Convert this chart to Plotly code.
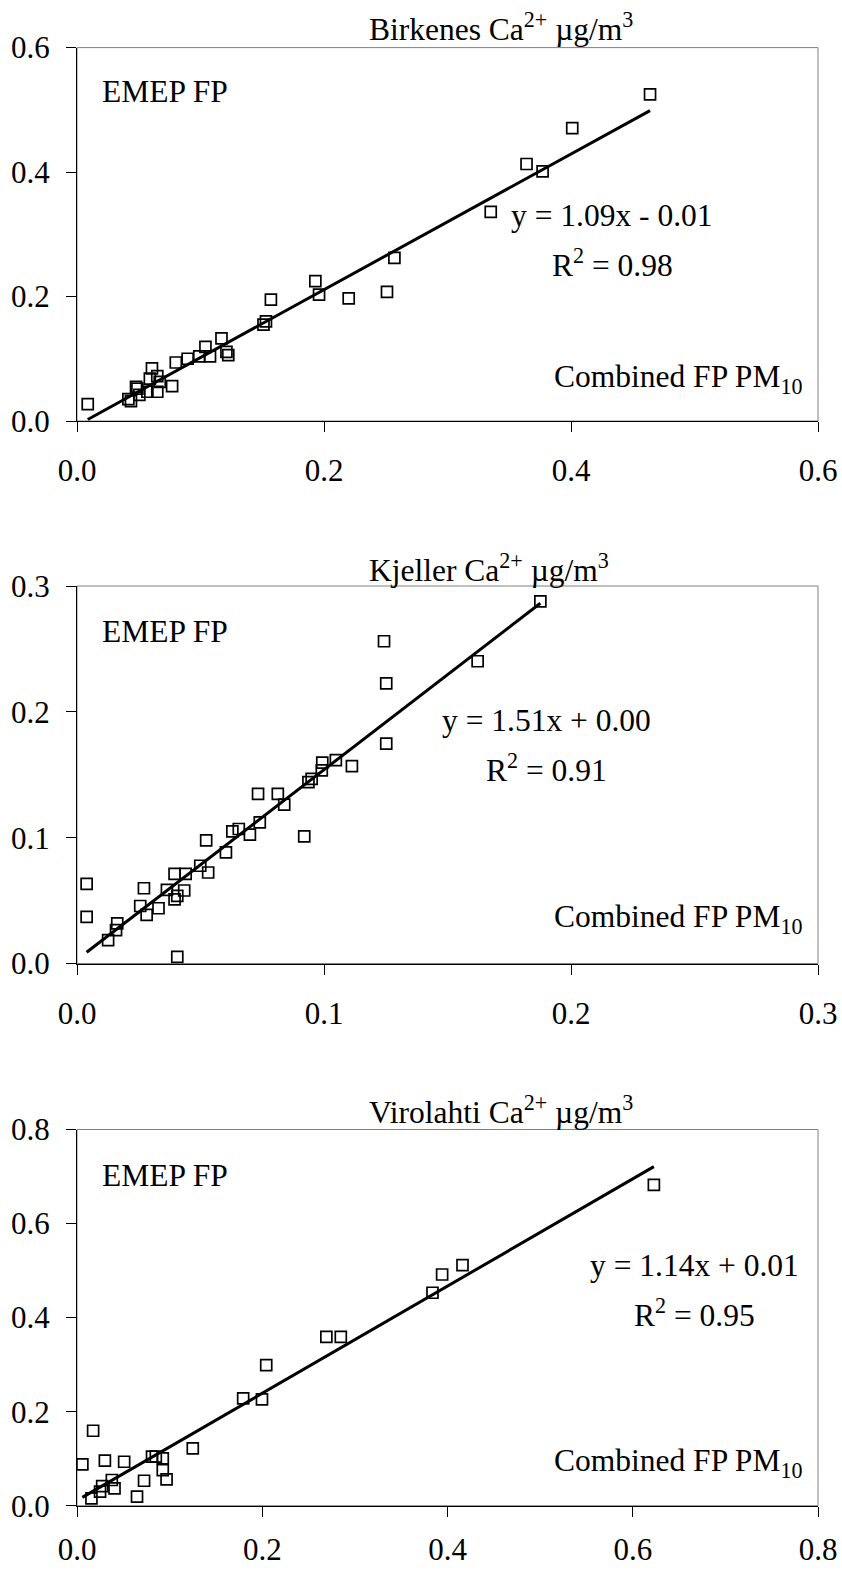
import plotly.graph_objects as go

W, H = 842, 1571

# ---------------- data ----------------
birkenes_x = [0.0087, 0.0416, 0.0437, 0.0489, 0.0478, 0.0505, 0.057, 0.059, 0.0607, 0.065,
              0.065, 0.067, 0.077, 0.080, 0.0896, 0.099, 0.104, 0.1077, 0.117, 0.121,
              0.1225, 0.151, 0.153, 0.157, 0.193, 0.196, 0.220, 0.251, 0.257, 0.335,
              0.364, 0.377, 0.401, 0.464]
birkenes_y = [0.027, 0.035, 0.032, 0.052, 0.055, 0.042, 0.047, 0.068, 0.0845, 0.072,
              0.047, 0.063, 0.056, 0.094, 0.100, 0.104, 0.119, 0.104, 0.1327, 0.111,
              0.106, 0.155, 0.160, 0.195, 0.2246, 0.203, 0.197, 0.2075, 0.262, 0.336,
              0.413, 0.401, 0.4706, 0.525]

kjeller_x = [0.0039, 0.0039, 0.0126, 0.0158, 0.0163, 0.0256, 0.0271, 0.0282, 0.033, 0.0364,
             0.0395, 0.0395, 0.0406, 0.0434, 0.044, 0.0406, 0.0499, 0.0531, 0.0523, 0.0603,
             0.0629, 0.0655, 0.070, 0.074, 0.0733, 0.0813, 0.0839, 0.092, 0.0937, 0.095,
             0.0991, 0.0993, 0.1048, 0.1113, 0.1243, 0.1252, 0.1252, 0.1622, 0.1876]
kjeller_y = [0.0633, 0.037, 0.0186, 0.0266, 0.0319, 0.0457, 0.0598, 0.0386, 0.0439, 0.0585,
             0.0713, 0.051, 0.0537, 0.058, 0.0713, 0.0053, 0.0777, 0.0723, 0.0979, 0.0883,
             0.105, 0.1069, 0.1024, 0.1122, 0.1348, 0.1348, 0.1263, 0.1011, 0.1441, 0.1468,
             0.1535, 0.1596, 0.1617, 0.1569, 0.2561, 0.2226, 0.1747, 0.2402, 0.2878]

virolahti_x = [0.0058, 0.0174, 0.0156, 0.0249, 0.0272, 0.0301, 0.0376, 0.0405, 0.0509, 0.0648,
               0.0724, 0.081, 0.0851, 0.0926, 0.0926, 0.0967, 0.125, 0.1794, 0.1997, 0.2043,
               0.2692, 0.2848, 0.3838, 0.3942, 0.4162, 0.6228]
virolahti_y = [0.0879, 0.1594, 0.0156, 0.0298, 0.0418, 0.0957, 0.0546, 0.0368, 0.0935, 0.0191,
               0.0531, 0.1042, 0.1042, 0.1006, 0.0758, 0.056, 0.1219, 0.2282, 0.226, 0.299,
               0.3592, 0.3592, 0.4528, 0.4917, 0.5116, 0.6824]

stations = ["Birkenes", "Kjeller", "Virolahti"]
slopes = [1.09, 1.51, 1.14]
intercepts = [-0.007, 0.003, 0.011]
eq_labels = ["y = 1.09x - 0.01", "y = 1.51x + 0.00", "y = 1.14x + 0.01"]
r2_labels = ["R<sup>2</sup> = 0.98", "R<sup>2</sup> = 0.91", "R<sup>2</sup> = 0.95"]
axis_max = [0.6, 0.3, 0.8]
axis_dtick = [0.2, 0.1, 0.2]
xs = [birkenes_x, kjeller_x, virolahti_x]
ys = [birkenes_y, kjeller_y, virolahti_y]

# ---------------- layout (pixel geometry) ----------------
FONT = '"Liberation Serif", "Times New Roman", Times, serif'
TXT = 31.5
TICK = 31
x_left, x_right = 77, 818
plot_px = [(47.6, 421.0), (586.0, 963.5), (1129.5, 1505.7)]  # (top, bottom)
x_standoff = [12, 12, 6]
title_base = [41, 582, 1124]
emep_base = [103, 643, 1186.7]
eq_center = [612, 546, 694]
eq_base = [226.7, 731.7, 1276.7]
r2_base = [276.7, 781.7, 1326.7]
comb_base = [393, 933, 1476.7]


def px2x(px):
    return px / W


def py2y(py):
    return 1 - py / H


fig = go.Figure()
annotations = []
shapes = []
for i in range(3):
    n = i + 1
    xa = "x" if n == 1 else f"x{n}"
    ya = "y" if n == 1 else f"y{n}"
    x = xs[i]
    y = ys[i]
    fig.add_trace(go.Scatter(
        x=x, y=y, mode="markers", xaxis=xa, yaxis=ya,
        marker=dict(symbol="square-open", size=11, color="black", line=dict(width=1.7)),
        showlegend=False, hoverinfo="skip"))
    x0, x1 = min(x), max(x)
    fig.add_trace(go.Scatter(
        x=[x0, x1], y=[slopes[i] * x0 + intercepts[i], slopes[i] * x1 + intercepts[i]],
        mode="lines", xaxis=xa, yaxis=ya, line=dict(color="black", width=3),
        showlegend=False, hoverinfo="skip"))

    top, bot = plot_px[i]
    dom_y = [py2y(bot), py2y(top)]
    axis_common = dict(
        showgrid=False, zeroline=False, showline=True, linecolor="black", linewidth=1,
        ticks="outside", ticklen=10, tickwidth=1, tickcolor="black", automargin=False,
        tickformat=".1f", tickfont=dict(family=FONT, size=TICK, color="black"),
        range=[0, axis_max[i]], dtick=axis_dtick[i], tick0=0, fixedrange=True)
    fig.update_layout(**{
        ("xaxis" if n == 1 else f"xaxis{n}"): dict(
            axis_common, domain=[px2x(x_left), px2x(x_right)], anchor=ya,
            ticklabelstandoff=x_standoff[i]),
        ("yaxis" if n == 1 else f"yaxis{n}"): dict(
            axis_common, domain=dom_y, anchor=xa, ticklabelstandoff=10),
    })
    shapes.append(dict(type="rect", xref=f"{xa} domain", yref=f"{ya} domain",
                       x0=0, x1=1, y0=0, y1=1, line=dict(color="#808080", width=1),
                       layer="below"))

    def ann(text, px, base, xanchor="left", size=TXT):
        annotations.append(dict(
            text=text, x=px2x(px), y=py2y(base + 8), xref="paper", yref="paper",
            xanchor=xanchor, yanchor="bottom", showarrow=False,
            font=dict(family=FONT, size=size, color="black")))

    ann(f"{stations[i]} Ca<sup>2+</sup> µg/m<sup>3</sup>", 367, title_base[i])
    ann("EMEP FP", 100, emep_base[i])
    ann(eq_labels[i], eq_center[i], eq_base[i], xanchor="center")
    ann(r2_labels[i], eq_center[i], r2_base[i], xanchor="center")
    ann("Combined FP PM<sub>10</sub>", 804, comb_base[i], xanchor="right")

fig.update_layout(
    width=W, height=H, margin=dict(l=0, r=0, t=0, b=0, autoexpand=False),
    paper_bgcolor="white", plot_bgcolor="white", template="none",
    annotations=annotations, shapes=shapes,
    font=dict(family=FONT, color="black"))

fig.write_html("out.html", config={"displayModeBar": False})
